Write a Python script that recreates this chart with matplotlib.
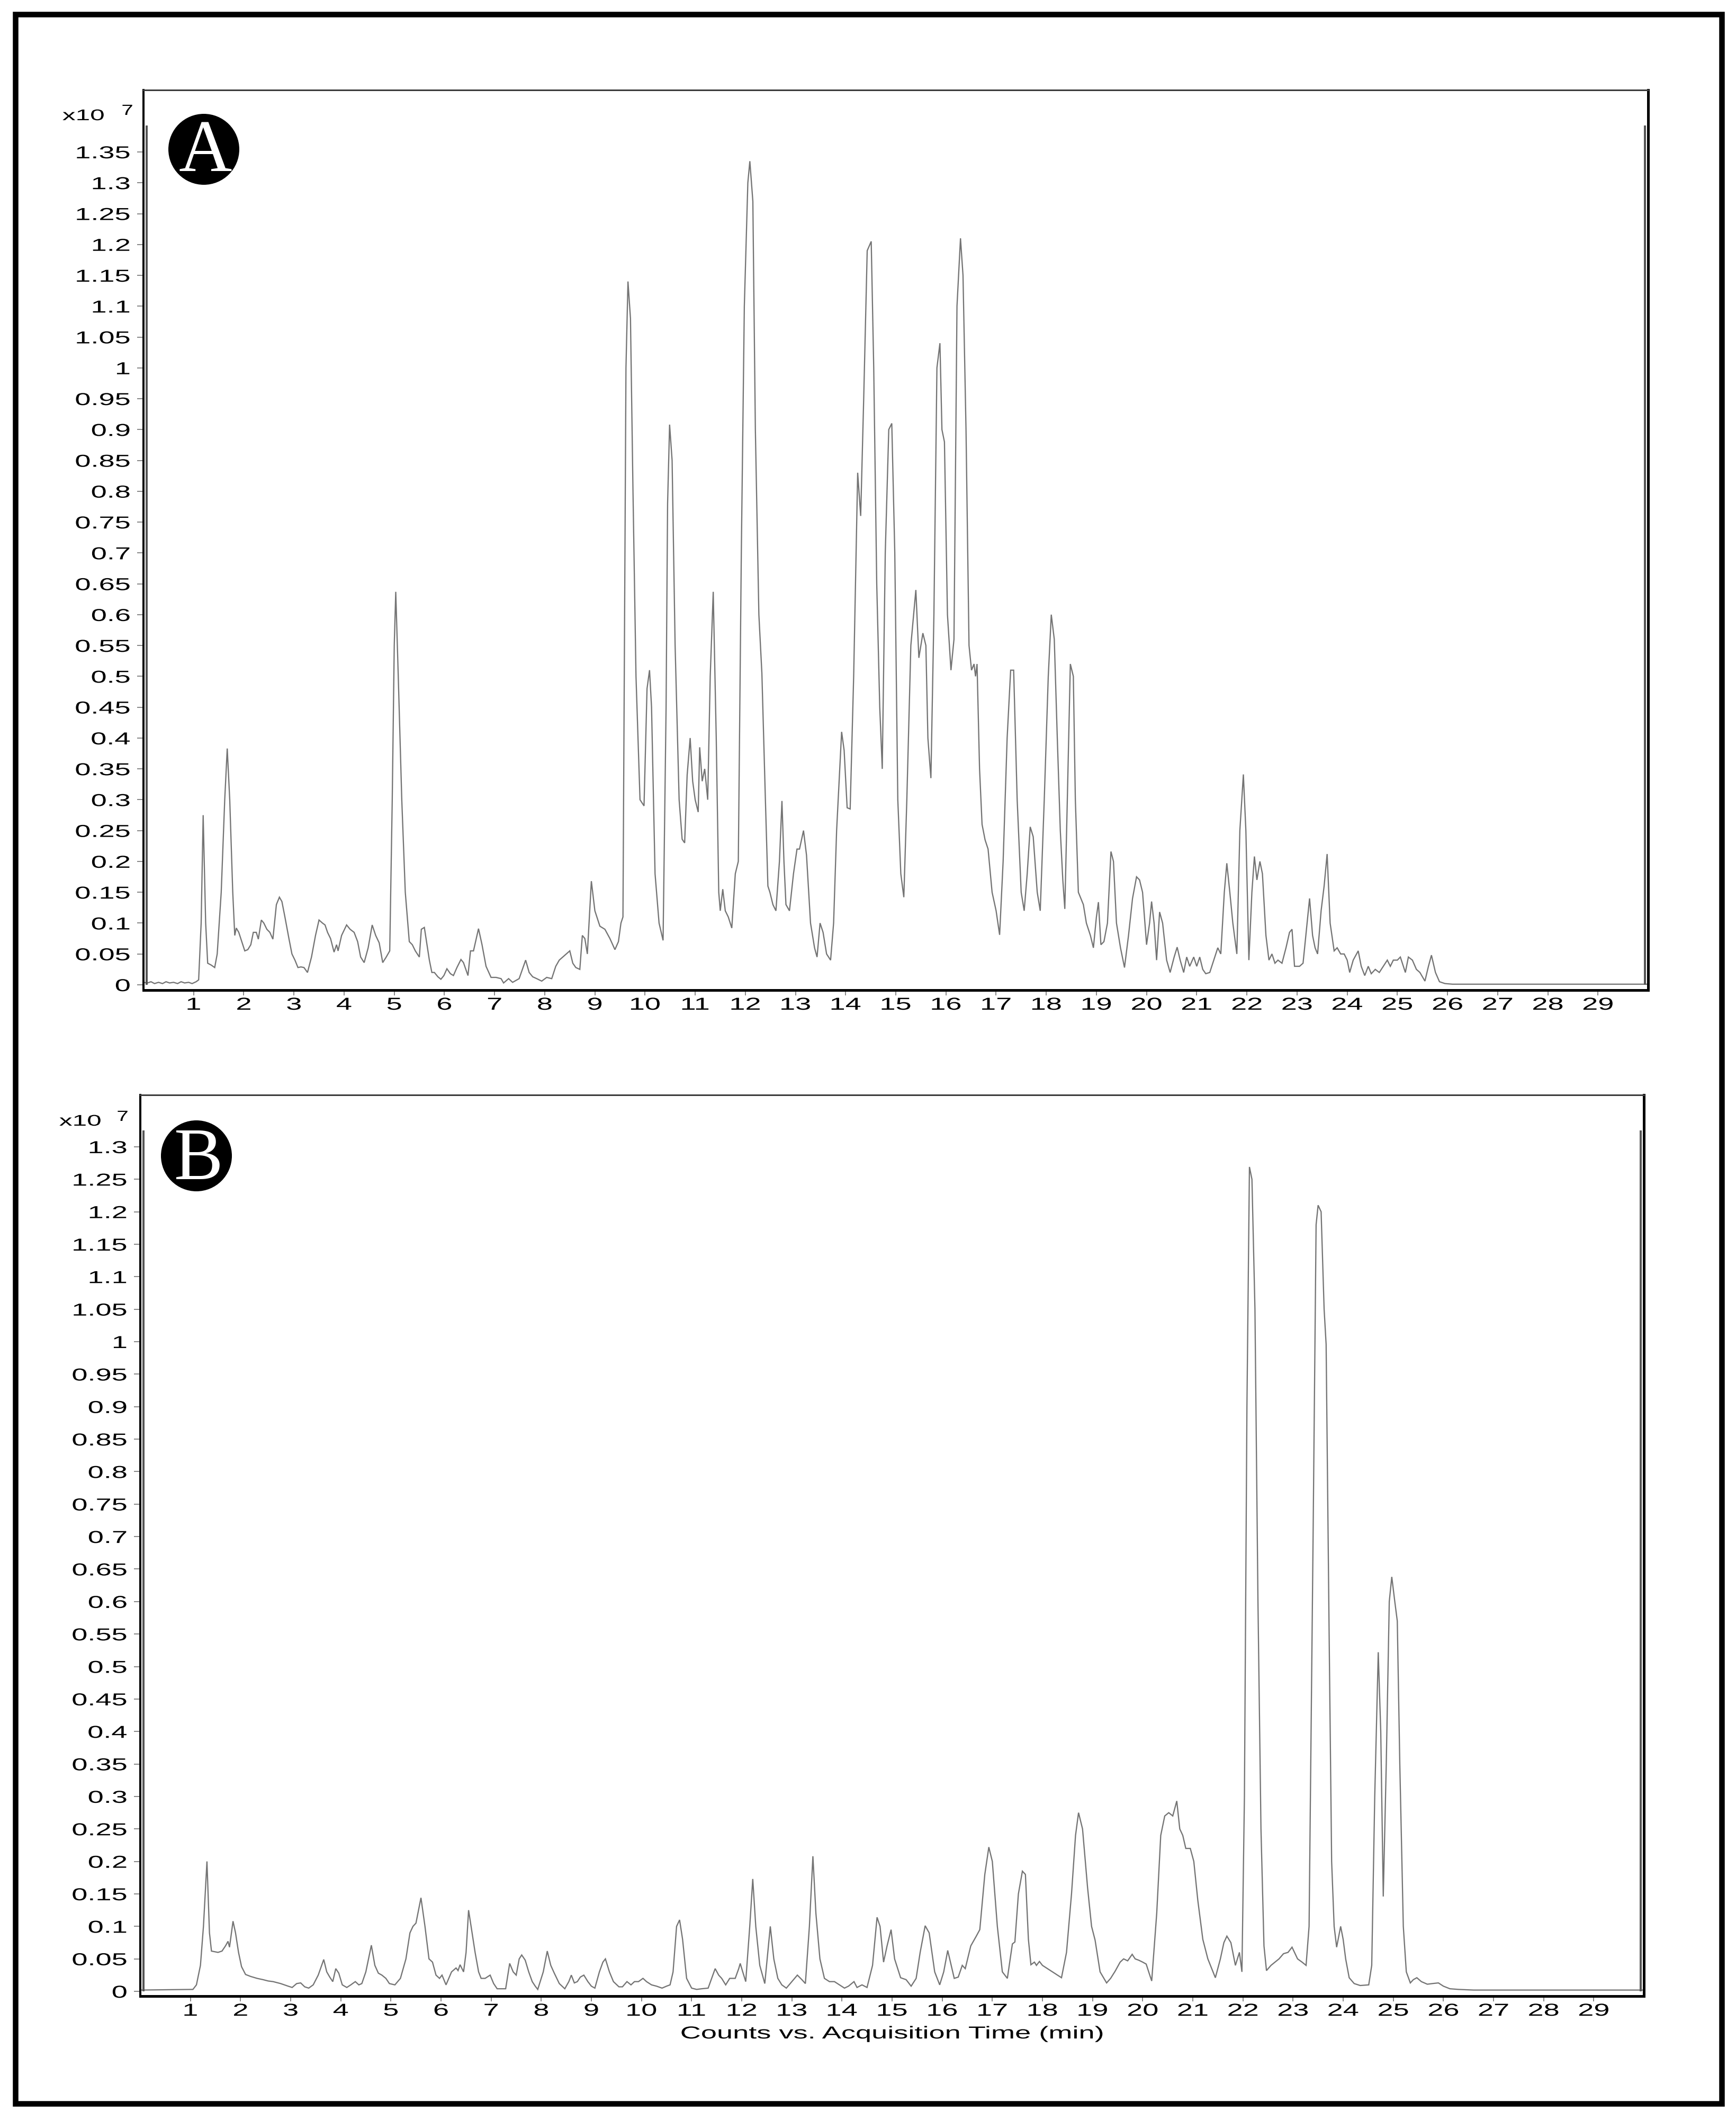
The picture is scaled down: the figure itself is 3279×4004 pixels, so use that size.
import numpy as np
import matplotlib
matplotlib.use("Agg")
import matplotlib.pyplot as plt
from matplotlib.patheffects import AbstractPathEffect
from matplotlib.transforms import Affine2D
from matplotlib.patches import Ellipse, Rectangle
from matplotlib.ticker import FixedLocator, FuncFormatter

# ---------------- data (x10^7 counts vs. acquisition time, min) ----------------
time_A = [
    0.00, 0.08, 0.15, 0.22, 0.30, 0.38, 0.45, 0.52, 0.60, 0.68,
    0.75, 0.82, 0.90, 0.97, 1.05, 1.10, 1.15, 1.19, 1.24, 1.28,
    1.35, 1.42, 1.47, 1.55, 1.62, 1.67, 1.72, 1.78, 1.82, 1.85,
    1.90, 1.96, 2.02, 2.08, 2.14, 2.19, 2.25, 2.29, 2.35, 2.40,
    2.46, 2.52, 2.58, 2.65, 2.71, 2.76, 2.82, 2.90, 2.96, 3.02,
    3.08, 3.14, 3.20, 3.27, 3.35, 3.43, 3.50, 3.57, 3.62, 3.67,
    3.73, 3.80, 3.85, 3.88, 3.95, 4.05, 4.12, 4.20, 4.27, 4.33,
    4.40, 4.48, 4.56, 4.63, 4.70, 4.77, 4.84, 4.91, 4.96, 5.00,
    5.03, 5.08, 5.15, 5.22, 5.30, 5.36, 5.42, 5.50, 5.54, 5.60,
    5.70, 5.75, 5.80, 5.87, 5.93, 5.99, 6.05, 6.12, 6.18, 6.25,
    6.33, 6.38, 6.47, 6.52, 6.58, 6.68, 6.75, 6.83, 6.93, 7.03,
    7.13, 7.18, 7.28, 7.36, 7.49, 7.62, 7.69, 7.76, 7.84, 7.89,
    7.94, 8.04, 8.14, 8.22, 8.29, 8.36, 8.43, 8.50, 8.56, 8.62,
    8.70, 8.75, 8.80, 8.85, 8.93, 9.00, 9.10, 9.20, 9.30, 9.40,
    9.47, 9.52, 9.56, 9.59, 9.62, 9.66, 9.71, 9.76, 9.82, 9.90,
    9.98, 10.04, 10.09, 10.13, 10.20, 10.28, 10.36, 10.42, 10.45, 10.49,
    10.54, 10.60, 10.68, 10.74, 10.79, 10.84, 10.90, 10.95, 11.00, 11.06,
    11.09, 11.14, 11.19, 11.25, 11.30, 11.36, 11.42, 11.47, 11.50, 11.55,
    11.60, 11.66, 11.73, 11.80, 11.86, 11.92, 11.98, 12.05, 12.09, 12.15,
    12.20, 12.27, 12.33, 12.40, 12.45, 12.49, 12.55, 12.61, 12.68, 12.73,
    12.77, 12.81, 12.88, 12.96, 13.03, 13.08, 13.16, 13.22, 13.30, 13.38,
    13.43, 13.49, 13.55, 13.62, 13.70, 13.76, 13.82, 13.92, 13.97, 14.03,
    14.09, 14.16, 14.24, 14.30, 14.36, 14.43, 14.51, 14.56, 14.62, 14.68,
    14.73, 14.79, 14.86, 14.92, 14.98, 15.04, 15.10, 15.16, 15.22, 15.30,
    15.40, 15.46, 15.54, 15.60, 15.64, 15.70, 15.76, 15.82, 15.88, 15.92,
    15.97, 16.03, 16.10, 16.16, 16.22, 16.29, 16.34, 16.40, 16.46, 16.51,
    16.56, 16.59, 16.62, 16.67, 16.72, 16.78, 16.84, 16.92, 17.00, 17.07,
    17.14, 17.22, 17.29, 17.35, 17.42, 17.50, 17.56, 17.62, 17.68, 17.74,
    17.82, 17.88, 17.96, 18.04, 18.10, 18.16, 18.22, 18.28, 18.33, 18.37,
    18.42, 18.48, 18.54, 18.58, 18.64, 18.69, 18.74, 18.80, 18.88, 18.94,
    19.00, 19.04, 19.09, 19.15, 19.22, 19.29, 19.34, 19.40, 19.48, 19.56,
    19.64, 19.72, 19.80, 19.86, 19.92, 20.00, 20.06, 20.10, 20.15, 20.20,
    20.26, 20.32, 20.40, 20.47, 20.55, 20.61, 20.67, 20.74, 20.80, 20.86,
    20.94, 21.00, 21.06, 21.12, 21.18, 21.26, 21.34, 21.42, 21.48, 21.55,
    21.60, 21.66, 21.72, 21.80, 21.86, 21.93, 21.98, 22.04, 22.10, 22.15,
    22.20, 22.26, 22.31, 22.38, 22.44, 22.50, 22.56, 22.62, 22.70, 22.78,
    22.85, 22.90, 22.95, 23.05, 23.12, 23.20, 23.25, 23.31, 23.36, 23.41,
    23.48, 23.54, 23.60, 23.66, 23.74, 23.80, 23.87, 23.94, 24.00, 24.05,
    24.12, 24.22, 24.28, 24.35, 24.42, 24.48, 24.56, 24.64, 24.72, 24.80,
    24.86, 24.92, 25.00, 25.06, 25.12, 25.16, 25.22, 25.30, 25.38, 25.45,
    25.55, 25.62, 25.68, 25.76, 25.84, 25.95, 26.10, 30.00,
]
counts_A = [
    0.004, 0.003, 0.005, 0.002, 0.004, 0.002, 0.005, 0.003, 0.004, 0.002,
    0.005, 0.003, 0.004, 0.002, 0.005, 0.008, 0.10, 0.275, 0.10, 0.035,
    0.032, 0.028, 0.05, 0.15, 0.30, 0.383, 0.30, 0.15, 0.08, 0.092,
    0.085, 0.07, 0.055, 0.057, 0.065, 0.085, 0.085, 0.074, 0.105, 0.10,
    0.09, 0.085, 0.074, 0.13, 0.142, 0.135, 0.11, 0.075, 0.05, 0.04,
    0.028, 0.029, 0.028, 0.02, 0.045, 0.08, 0.105, 0.10, 0.097, 0.085,
    0.075, 0.053, 0.065, 0.055, 0.08, 0.097, 0.09, 0.085, 0.07, 0.045,
    0.036, 0.06, 0.097, 0.08, 0.068, 0.036, 0.045, 0.055, 0.30, 0.55,
    0.637, 0.50, 0.30, 0.15, 0.07, 0.065, 0.055, 0.045, 0.09, 0.093,
    0.04, 0.02, 0.02, 0.013, 0.009, 0.015, 0.026, 0.018, 0.015, 0.028,
    0.041, 0.036, 0.015, 0.055, 0.055, 0.091, 0.065, 0.03, 0.012, 0.012,
    0.01, 0.003, 0.01, 0.004, 0.01, 0.04, 0.02, 0.013, 0.01, 0.008,
    0.006, 0.012, 0.01, 0.03, 0.04, 0.045, 0.05, 0.055, 0.035, 0.028,
    0.025, 0.08, 0.075, 0.05, 0.168, 0.12, 0.095, 0.09, 0.075, 0.057,
    0.07, 0.10, 0.11, 0.55, 1.00, 1.14, 1.08, 0.80, 0.50, 0.30,
    0.29, 0.48, 0.51, 0.45, 0.18, 0.10, 0.072, 0.45, 0.78, 0.908,
    0.85, 0.55, 0.30, 0.236, 0.23, 0.34, 0.40, 0.33, 0.30, 0.28,
    0.385, 0.33, 0.35, 0.30, 0.50, 0.637, 0.40, 0.15, 0.12, 0.155,
    0.12, 0.11, 0.092, 0.18, 0.20, 0.70, 1.10, 1.30, 1.335, 1.27,
    0.90, 0.60, 0.505, 0.30, 0.16, 0.15, 0.13, 0.12, 0.20, 0.298,
    0.20, 0.13, 0.12, 0.18, 0.22, 0.22, 0.25, 0.21, 0.10, 0.06,
    0.045, 0.10, 0.085, 0.05, 0.04, 0.10, 0.25, 0.41, 0.38, 0.287,
    0.285, 0.50, 0.83, 0.76, 0.95, 1.19, 1.205, 1.00, 0.65, 0.45,
    0.35, 0.70, 0.90, 0.91, 0.70, 0.30, 0.18, 0.142, 0.30, 0.55,
    0.64, 0.53, 0.57, 0.55, 0.40, 0.335, 0.60, 1.00, 1.04, 0.90,
    0.88, 0.60, 0.51, 0.56, 1.10, 1.21, 1.15, 0.90, 0.55, 0.51,
    0.52, 0.50, 0.52, 0.35, 0.26, 0.235, 0.22, 0.15, 0.12, 0.081,
    0.20, 0.40, 0.51, 0.51, 0.30, 0.15, 0.12, 0.18, 0.256, 0.24,
    0.15, 0.12, 0.30, 0.50, 0.60, 0.56, 0.40, 0.25, 0.17, 0.123,
    0.30, 0.52, 0.50, 0.30, 0.15, 0.14, 0.13, 0.10, 0.08, 0.06,
    0.11, 0.134, 0.065, 0.07, 0.10, 0.216, 0.20, 0.10, 0.06, 0.028,
    0.08, 0.14, 0.175, 0.17, 0.15, 0.065, 0.10, 0.135, 0.10, 0.04,
    0.118, 0.10, 0.04, 0.02, 0.045, 0.061, 0.04, 0.02, 0.045, 0.03,
    0.045, 0.03, 0.045, 0.025, 0.018, 0.02, 0.04, 0.06, 0.05, 0.15,
    0.197, 0.15, 0.10, 0.05, 0.25, 0.341, 0.25, 0.04, 0.15, 0.208,
    0.17, 0.20, 0.18, 0.08, 0.04, 0.05, 0.035, 0.04, 0.035, 0.06,
    0.085, 0.09, 0.03, 0.03, 0.035, 0.10, 0.14, 0.08, 0.06, 0.05,
    0.12, 0.16, 0.212, 0.10, 0.055, 0.06, 0.05, 0.05, 0.04, 0.02,
    0.04, 0.055, 0.03, 0.015, 0.03, 0.018, 0.025, 0.02, 0.03, 0.04,
    0.03, 0.04, 0.04, 0.045, 0.03, 0.02, 0.045, 0.04, 0.025, 0.02,
    0.006, 0.03, 0.048, 0.02, 0.005, 0.002, 0.001, 0.001,
]

time_B = [
    0.00, 1.05, 1.12, 1.20, 1.26, 1.33, 1.38, 1.42, 1.55, 1.63,
    1.70, 1.75, 1.78, 1.85, 1.90, 1.96, 2.02, 2.10, 2.20, 2.33,
    2.45, 2.55, 2.65, 2.80, 2.95, 3.03, 3.12, 3.20, 3.28, 3.36,
    3.45, 3.55, 3.66, 3.72, 3.78, 3.84, 3.90, 3.96, 4.03, 4.12,
    4.20, 4.29, 4.36, 4.42, 4.50, 4.61, 4.68, 4.75, 4.82, 4.90,
    4.97, 5.08, 5.19, 5.30, 5.38, 5.44, 5.50, 5.60, 5.68, 5.76,
    5.83, 5.90, 5.97, 6.02, 6.10, 6.21, 6.30, 6.34, 6.38, 6.45,
    6.50, 6.55, 6.60, 6.68, 6.75, 6.80, 6.88, 6.98, 7.05, 7.12,
    7.29, 7.37, 7.44, 7.50, 7.56, 7.61, 7.68, 7.75, 7.82, 7.88,
    7.93, 8.04, 8.12, 8.19, 8.26, 8.36, 8.47, 8.55, 8.60, 8.66,
    8.72, 8.78, 8.85, 8.93, 9.00, 9.07, 9.16, 9.23, 9.28, 9.36,
    9.44, 9.55, 9.62, 9.71, 9.79, 9.86, 9.94, 10.03, 10.10, 10.20,
    10.30, 10.41, 10.50, 10.57, 10.63, 10.70, 10.76, 10.82, 10.90, 11.00,
    11.10, 11.20, 11.33, 11.40, 11.47, 11.54, 11.60, 11.68, 11.76, 11.87,
    11.94, 11.97, 12.02, 12.08, 12.16, 12.22, 12.28, 12.36, 12.46, 12.52,
    12.57, 12.64, 12.72, 12.80, 12.89, 13.00, 13.11, 13.20, 13.27, 13.35,
    13.42, 13.48, 13.56, 13.65, 13.75, 13.85, 13.95, 14.05, 14.13, 14.24,
    14.30, 14.40, 14.50, 14.61, 14.70, 14.76, 14.83, 14.90, 14.98, 15.05,
    15.17, 15.28, 15.38, 15.48, 15.56, 15.66, 15.74, 15.85, 15.95, 16.03,
    16.11, 16.18, 16.24, 16.32, 16.40, 16.46, 16.57, 16.68, 16.75, 16.85,
    16.93, 17.00, 17.10, 17.20, 17.30, 17.40, 17.45, 17.52, 17.60, 17.66,
    17.72, 17.77, 17.84, 17.88, 17.94, 18.00, 18.10, 18.20, 18.30, 18.38,
    18.48, 18.58, 18.66, 18.72, 18.80, 18.90, 18.98, 19.05, 19.15, 19.28,
    19.36, 19.45, 19.55, 19.62, 19.70, 19.79, 19.85, 19.92, 20.00, 20.07,
    20.12, 20.18, 20.28, 20.36, 20.44, 20.52, 20.60, 20.68, 20.74, 20.80,
    20.86, 20.95, 21.02, 21.10, 21.20, 21.30, 21.45, 21.55, 21.62, 21.68,
    21.76, 21.85, 21.93, 21.98, 22.03, 22.08, 22.13, 22.18, 22.24, 22.30,
    22.36, 22.42, 22.47, 22.56, 22.64, 22.72, 22.81, 22.90, 22.98, 23.09,
    23.18, 23.26, 23.32, 23.40, 23.46, 23.50, 23.56, 23.62, 23.66, 23.72,
    23.77, 23.82, 23.87, 23.95, 24.00, 24.05, 24.12, 24.22, 24.34, 24.51,
    24.57, 24.63, 24.70, 24.75, 24.80, 24.86, 24.92, 24.97, 25.03, 25.08,
    25.13, 25.20, 25.26, 25.34, 25.40, 25.47, 25.56, 25.68, 25.78, 25.90,
    26.00, 26.13, 26.30, 26.60, 30.00,
]
counts_B = [
    0.002, 0.003, 0.01, 0.04, 0.10, 0.20, 0.09, 0.062, 0.06, 0.062,
    0.07, 0.077, 0.068, 0.108, 0.09, 0.06, 0.038, 0.026, 0.023, 0.02,
    0.018, 0.016, 0.015, 0.012, 0.008, 0.006, 0.012, 0.013, 0.007, 0.005,
    0.01, 0.025, 0.049, 0.03, 0.022, 0.015, 0.035, 0.028, 0.01, 0.006,
    0.01, 0.015, 0.01, 0.012, 0.03, 0.071, 0.04, 0.028, 0.025, 0.02,
    0.012, 0.01, 0.02, 0.05, 0.09, 0.10, 0.105, 0.144, 0.10, 0.05,
    0.045, 0.025, 0.02, 0.025, 0.01, 0.03, 0.036, 0.032, 0.041, 0.03,
    0.06, 0.125, 0.10, 0.06, 0.03, 0.02, 0.02, 0.025, 0.012, 0.004,
    0.004, 0.043, 0.03, 0.025, 0.05, 0.056, 0.048, 0.03, 0.015, 0.008,
    0.003, 0.03, 0.062, 0.04, 0.028, 0.012, 0.004, 0.015, 0.025, 0.013,
    0.015, 0.022, 0.025, 0.015, 0.008, 0.005, 0.03, 0.045, 0.05, 0.03,
    0.015, 0.007, 0.007, 0.015, 0.01, 0.015, 0.015, 0.02, 0.015, 0.01,
    0.008, 0.005, 0.008, 0.01, 0.03, 0.10, 0.11, 0.08, 0.02, 0.005,
    0.003, 0.004, 0.005, 0.02, 0.035, 0.025, 0.02, 0.01, 0.02, 0.02,
    0.035, 0.043, 0.03, 0.015, 0.10, 0.173, 0.10, 0.04, 0.012, 0.06,
    0.10, 0.05, 0.02, 0.01, 0.005, 0.015, 0.025, 0.018, 0.012, 0.10,
    0.208, 0.12, 0.05, 0.02, 0.015, 0.015, 0.01, 0.005, 0.008, 0.015,
    0.006, 0.01, 0.006, 0.04, 0.114, 0.10, 0.045, 0.07, 0.095, 0.05,
    0.021, 0.018, 0.008, 0.02, 0.06, 0.101, 0.09, 0.03, 0.01, 0.03,
    0.063, 0.04, 0.02, 0.022, 0.04, 0.035, 0.07, 0.085, 0.095, 0.18,
    0.222, 0.20, 0.10, 0.03, 0.02, 0.073, 0.076, 0.15, 0.185, 0.18,
    0.08, 0.041, 0.045, 0.04, 0.046, 0.04, 0.035, 0.03, 0.025, 0.021,
    0.06, 0.15, 0.24, 0.275, 0.25, 0.16, 0.10, 0.079, 0.03, 0.013,
    0.02, 0.031, 0.045, 0.05, 0.047, 0.057, 0.05, 0.048, 0.045, 0.042,
    0.03, 0.016, 0.12, 0.24, 0.27, 0.275, 0.27, 0.293, 0.25, 0.24,
    0.22, 0.22, 0.20, 0.14, 0.08, 0.05, 0.021, 0.05, 0.075, 0.085,
    0.075, 0.04, 0.06, 0.03, 0.30, 0.90, 1.269, 1.25, 1.05, 0.60,
    0.25, 0.07, 0.032, 0.04, 0.045, 0.05, 0.058, 0.06, 0.068, 0.05,
    0.045, 0.04, 0.10, 0.70, 1.18, 1.21, 1.20, 1.05, 0.996, 0.55,
    0.20, 0.10, 0.068, 0.10, 0.08, 0.05, 0.021, 0.012, 0.009, 0.01,
    0.04, 0.30, 0.522, 0.40, 0.146, 0.35, 0.60, 0.638, 0.60, 0.57,
    0.35, 0.10, 0.03, 0.013, 0.018, 0.021, 0.015, 0.011, 0.012, 0.013,
    0.008, 0.004, 0.003, 0.002, 0.002,
]

x_ticks = list(range(1, 30))
y_ticks_A = [round(0.05 * i, 2) for i in range(28)]   # 0 .. 1.35
y_ticks_B = [round(0.05 * i, 2) for i in range(27)]   # 0 .. 1.3
x_limits = (0, 30)
y_limits_A = (-0.0086, 1.4504)
y_limits_B = (-0.0073, 1.3798)
edge_top_A = 1.393      # height of the vertical trace segments at both ends
edge_top_B = 1.325
panel_letters = ["A", "B"]
x_label = "Counts vs. Acquisition Time (min)"
scale_exp_text = ("x10", "7")

assert len(time_A) == len(counts_A)
assert len(time_B) == len(counts_B)


# ---------------- helpers ----------------
class HStretch(AbstractPathEffect):
    """Draw text glyphs stretched horizontally (the source picture was widened)."""

    def __init__(self, sx=1.66, anchor="center"):
        super().__init__()
        self.sx = sx
        self.anchor = anchor

    def draw_path(self, renderer, gc, tpath, affine, rgbFace=None):
        ext = tpath.get_extents()
        if self.anchor == "left":
            a = ext.x0
        elif self.anchor == "right":
            a = ext.x1
        else:
            a = 0.5 * (ext.x0 + ext.x1)
        pre = Affine2D().translate(-a, 0).scale(self.sx, 1.0).translate(a, 0)
        renderer.draw_path(gc, tpath, pre + affine, rgbFace)


W, H, DPI = 3279, 4004, 100
plt.rcParams["font.family"] = ["Liberation Sans", "DejaVu Sans"]

fig = plt.figure(figsize=(W / DPI, H / DPI), dpi=DPI)
fig.patch.set_facecolor("white")


def fx(px):
    return px / W


def fy(py):
    return 1.0 - py / H


PX = 72.0 / DPI  # points per pixel
TRACE_COLOR = "#747474"
SX = 1.66
TICK_FS = 23.5


def style_axes(ax, yt, ylim, edge_top, time, counts):
    ax.plot(time, counts, color=TRACE_COLOR, lw=2.3 * PX, solid_joinstyle="miter", zorder=2)
    off = 0.06
    ax.vlines([x_limits[0] + off, x_limits[1] - off], 0, edge_top,
              color="#555555", lw=4 * PX, zorder=2)
    ax.set_xlim(*x_limits)
    ax.set_ylim(*ylim)
    ax.xaxis.set_major_locator(FixedLocator(x_ticks))
    ax.yaxis.set_major_locator(FixedLocator(yt))
    ax.xaxis.set_major_formatter(FuncFormatter(lambda v, p: f"{v:g}"))
    ax.yaxis.set_major_formatter(FuncFormatter(lambda v, p: f"{round(v, 2):g}"))
    ax.tick_params(axis="x", direction="out", length=10 * PX, width=2 * PX,
                   color="#8a8a8a", pad=3 * PX, labelsize=TICK_FS, labelcolor="black")
    ax.tick_params(axis="y", direction="out", length=12 * PX, width=2 * PX,
                   color="#8a8a8a", pad=13 * PX, labelsize=TICK_FS, labelcolor="black")
    ax.spines["top"].set_linewidth(3 * PX)
    ax.spines["top"].set_color("#3c3c3c")
    ax.spines["right"].set_linewidth(5 * PX)
    ax.spines["right"].set_color("black")
    ax.spines["bottom"].set_linewidth(5 * PX)
    ax.spines["bottom"].set_color("black")
    ax.spines["left"].set_linewidth(4 * PX)
    ax.spines["left"].set_color("black")
    for t in ax.xaxis.get_major_ticks():
        t.label1.set_path_effects([HStretch(SX, "center")])
    for t in ax.yaxis.get_major_ticks():
        t.label1.set_path_effects([HStretch(SX, "right")])


axA = fig.add_axes([fx(271), fy(1870), fx(3113) - fx(271), (1870 - 170) / H])
axB = fig.add_axes([fx(265), fy(3770), fx(3105) - fx(265), (3770 - 2068) / H])

style_axes(axA, y_ticks_A, y_limits_A, edge_top_A, time_A, counts_A)
style_axes(axB, y_ticks_B, y_limits_B, edge_top_B, time_B, counts_B)

# x axis label (panel B only)
axB.set_xlabel(x_label, fontsize=TICK_FS)
axB.xaxis.set_label_coords(0.5, -(3850 - 3770) / (3770 - 2068))
axB.xaxis.label.set_va("baseline")
axB.xaxis.label.set_path_effects([HStretch(SX, "center")])

# "x10 7" scale annotations
for (bx, by, ex, ey) in [(118, 227, 230, 217), (112, 2126, 221, 2117)]:
    t1 = fig.text(fx(bx), fy(by), scale_exp_text[0], fontsize=21, ha="left", va="baseline")
    t1.set_path_effects([HStretch(1.7, "left")])
    t2 = fig.text(fx(ex), fy(ey), scale_exp_text[1], fontsize=20, ha="left", va="baseline")
    t2.set_path_effects([HStretch(1.45, "left")])

# panel letters in black circles
for letter, (cx, cy, base) in zip(panel_letters, [(385, 282, 323), (371, 2183, 2227)]):
    fig.add_artist(Ellipse((fx(cx), fy(cy)), 134 / W, 134 / H,
                           transform=fig.transFigure, facecolor="black", edgecolor="none"))
    fig.text(fx(cx + 3), fy(base), letter, fontsize=100, color="white",
             family=["Liberation Serif", "DejaVu Serif"], ha="center", va="baseline")

# outer frame
fig.add_artist(Rectangle((fx(28.5), fy(3973)), (3252 - 28.5) / W, (3973 - 27) / H,
                         transform=fig.transFigure, fill=False, edgecolor="black",
                         linewidth=10.5 * PX))

fig.savefig("out.png", dpi=DPI, facecolor="white")
